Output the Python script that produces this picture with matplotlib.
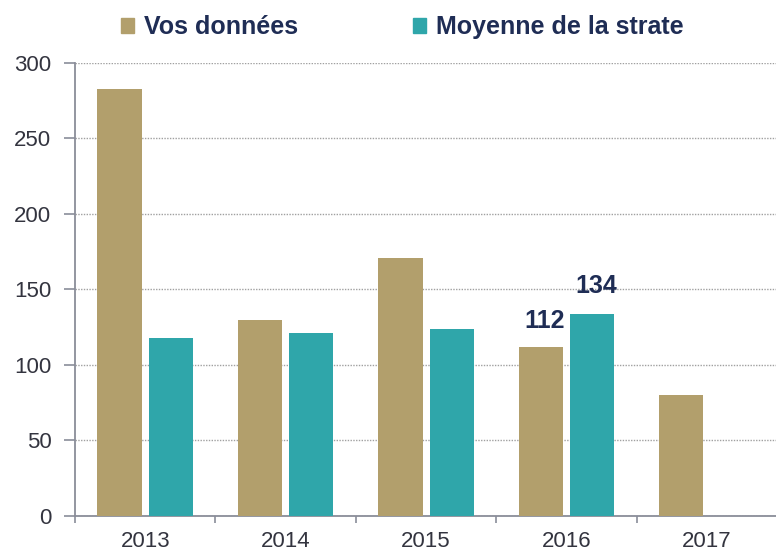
import numpy as np
import matplotlib.pyplot as plt
from matplotlib.patches import Patch

plt.rcParams['font.family'] = ['Liberation Sans', 'DejaVu Sans']

years = ['2013', '2014', '2015', '2016', '2017']
vos_donnees = [283, 130, 171, 112, 80]
moyenne_strate = [118, 121, 124, 134, np.nan]
labelled = {3: (112, 134)}  # only 2016 carries value labels

gold = '#B29F6C'
teal = '#2FA6AA'
navy = '#1F2D55'
tickcol = '#33343f'

fig = plt.figure(figsize=(7.76, 5.56), dpi=100)
ax = fig.add_axes([0.0966, 0.072, 0.905, 0.815])

x = np.arange(len(years))
w = 0.315
off = 0.183
ax.bar(x - off, vos_donnees, w, color=gold, zorder=3)
ax.bar(x + off, moyenne_strate, w, color=teal, zorder=3)

for i, (a, b) in labelled.items():
    ax.text(i - off + 0.03, a + 9, str(a), ha='center', va='bottom', fontsize=18,
            fontweight='bold', color=navy, zorder=4)
    ax.text(i + off + 0.03, b + 10, str(b), ha='center', va='bottom', fontsize=18,
            fontweight='bold', color=navy, zorder=4)

ax.set_xlim(-0.5, 4.5)
ax.set_ylim(0, 300)
ax.set_yticks(range(0, 301, 50))
ax.yaxis.grid(True, linestyle=(0, (1, 1)), color='#a0a0a0', linewidth=1.0)
ax.set_axisbelow(True)

ax.set_xticks(x)
ax.set_xticklabels(years)
ax.set_xticks(np.arange(-0.5, 4.6, 1), minor=True)
ax.tick_params(axis='x', which='major', length=0, pad=11, labelsize=16, labelcolor=tickcol)
ax.tick_params(axis='x', which='minor', length=5, color='#8a8d99', width=1.2, direction='out')
ax.tick_params(axis='y', length=8, color='#8a8d99', width=1.2, pad=9, labelsize=16,
               labelcolor=tickcol)

for s in ['top', 'right']:
    ax.spines[s].set_visible(False)
for s in ['left', 'bottom']:
    ax.spines[s].set_color('#8a8d99')
    ax.spines[s].set_linewidth(1.3)

handles = [Patch(color=gold, label='Vos données'), Patch(color=teal, label='Moyenne de la strate')]
leg = fig.legend(handles=handles, loc='center', bbox_to_anchor=(0.519, 0.951), ncol=2,
                 frameon=False, handlelength=0.52, handleheight=0.52, handletextpad=0.4,
                 columnspacing=4.6, borderpad=0, prop={'size': 18, 'weight': 'bold'})
for t in leg.get_texts():
    t.set_color(navy)

fig.savefig('out.png', dpi=100)
